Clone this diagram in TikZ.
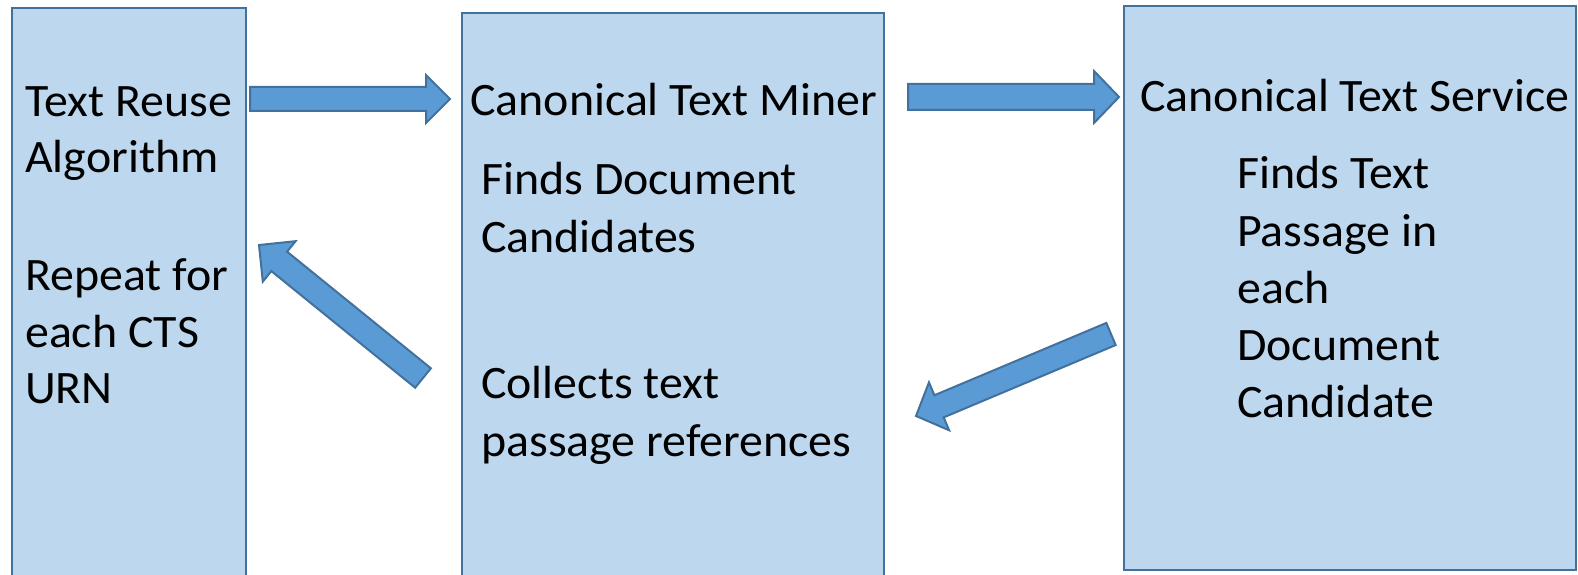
\documentclass[tikz,border=0pt]{standalone}
\usepackage{fontspec}
\setmainfont[FakeStretch=1.03]{Carlito}
\usetikzlibrary{calc}
\definecolor{boxfill}{HTML}{BDD7EE}
\definecolor{boxline}{HTML}{41719C}
\definecolor{arrfill}{HTML}{5B9BD5}
\tikzset{
  panel/.style={draw=boxline, fill=boxfill, line width=2pt, inner sep=0pt, anchor=north west},
  lbl/.style={anchor=base west, inner sep=0pt, font=\fontsize{46.5}{57}\selectfont},
  blockarrow/.style={draw=boxline, fill=arrfill, line width=2pt, line join=miter},
}
% block arrow from #1 to #2: shaft half width #3, head half width #4, head length #5
\newcommand\fatarrow[5]{%
  \coordinate (hb) at ($(#2)!#5!(#1)$);
  \draw[blockarrow]
    ($(#1)!#3!90:(#2)$) -- ($(hb)!#3!90:(#2)$) -- ($(hb)!#4!90:(#2)$) -- (#2)
    -- ($(hb)!#4!-90:(#2)$) -- ($(hb)!#3!-90:(#2)$) -- ($(#1)!#3!-90:(#2)$) -- cycle;
}
\begin{document}
\begin{tikzpicture}[x=1pt,y=-1pt]
\useasboundingbox (0,0) rectangle (1578,575);

% the three panels
\node[panel, minimum width=234pt, minimum height=580pt] (algo) at (11,7) {};
\node[panel, minimum width=422pt, minimum height=575pt] (miner) at (461,12) {};
\node[panel, minimum width=452pt, minimum height=564pt] (cts) at (1123,5) {};

% panel texts
\node[lbl] (a1) at (25,117) {Text Reuse};
\node[lbl] (a2) at (25,172) {Algorithm};
\node[lbl] (a3) at (25,290) {Repeat for};
\node[lbl] (a4) at (25,347) {each CTS};
\node[lbl] (a5) at (25,403) {URN};

\node[lbl] (m1) at (470,116) {Canonical Text Miner};
\node[lbl] (m2) at (481,194) {Finds Document};
\node[lbl] (m3) at (481,252) {Candidates};
\node[lbl] (m4) at (481,398) {Collects text};
\node[lbl] (m5) at (481,456) {passage references};

\node[lbl] (s1) at (1140,111) {Canonical Text Service};
\node[lbl] (s2) at (1237,188) {Finds Text};
\node[lbl] (s3) at (1237,246) {Passage in};
\node[lbl] (s4) at (1237,303) {each};
\node[lbl] (s5) at (1237,360) {Document};
\node[lbl] (s6) at (1237,417) {Candidate};

% arrow ends
\coordinate (r1a) at (250,99);
\coordinate (r1b) at (450,99);
\coordinate (r2a) at (908,97);
\coordinate (r2b) at (1119,97);
\coordinate (l1a) at (1111,334);
\coordinate (l1b) at (916,416);
\coordinate (l2a) at (423,378);
\coordinate (l2b) at (259,245);

\fatarrow{r1a}{r1b}{12pt}{24pt}{24pt}
\fatarrow{r2a}{r2b}{13pt}{26pt}{25pt}
\fatarrow{l1a}{l1b}{12pt}{26pt}{25pt}
\fatarrow{l2a}{l2b}{12.5pt}{26pt}{26pt}
\end{tikzpicture}
\end{document}
